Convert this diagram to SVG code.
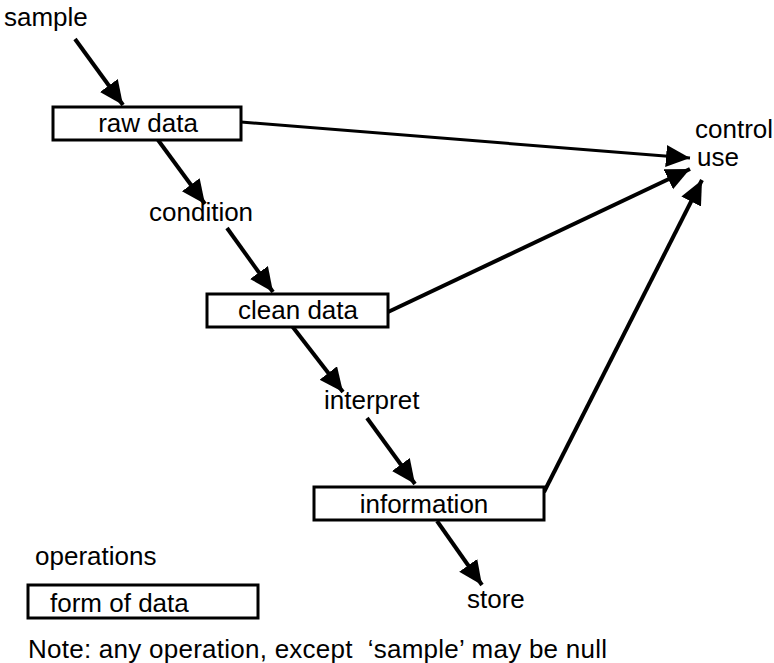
<svg xmlns="http://www.w3.org/2000/svg" width="774" height="663" viewBox="0 0 774 663">
<style>
text{font-family:"Liberation Sans",Arial,sans-serif;font-size:26px;fill:#000}
.box{fill:#fff;stroke:#000;stroke-width:3}
.c{fill:none;stroke:#000;stroke-width:4;marker-end:url(#ah)}
.c2{fill:none;stroke:#000;stroke-width:3;marker-end:url(#ah)}
</style>
<defs>
<marker id="ah" markerUnits="userSpaceOnUse" markerWidth="26" markerHeight="24" refX="24" refY="11" orient="auto">
<path d="M0,0 L24,11 L0,22 z" fill="#000"/>
</marker>
</defs>
<rect width="774" height="663" fill="#fff"/>
<g id="connectors">
<line class="c" x1="75" y1="39" x2="123" y2="105"/>
<line class="c" x1="158" y1="140" x2="205" y2="204"/>
<line class="c" x1="227" y1="228" x2="273" y2="292"/>
<line class="c" x1="292" y1="326" x2="343" y2="392"/>
<line class="c" x1="367" y1="418" x2="415" y2="484"/>
<line class="c" x1="437" y1="521" x2="482" y2="585"/>
<line class="c2" x1="241" y1="122" x2="690" y2="158"/>
<line class="c" x1="388" y1="312" x2="690" y2="169"/>
<line class="c" x1="544" y1="492" x2="702" y2="180"/>
</g>
<g id="sample"><text x="4" y="26">sample</text></g>
<g id="raw-data"><rect class="box" x="53" y="107" width="188" height="33"/><text x="148" y="132" text-anchor="middle">raw data</text></g>
<g id="condition"><text x="149" y="221">condition</text></g>
<g id="clean-data"><rect class="box" x="207" y="294" width="181" height="33"/><text x="298" y="319" text-anchor="middle">clean data</text></g>
<g id="interpret"><text x="324" y="409">interpret</text></g>
<g id="information"><rect class="box" x="314" y="487" width="230" height="33"/><text x="424" y="513" text-anchor="middle">information</text></g>
<g id="store"><text x="467" y="608">store</text></g>
<g id="control-use"><text x="695" y="138">control</text><text x="697" y="166">use</text></g>
<g id="legend-operations"><text x="35" y="565">operations</text></g>
<g id="legend-form"><rect class="box" x="28" y="585" width="230" height="33"/><text x="50" y="612">form of data</text></g>
<g id="note"><text x="28" y="658" textLength="579" lengthAdjust="spacing">Note: any operation, except&#160; ‘sample’ may be null</text></g>
</svg>
